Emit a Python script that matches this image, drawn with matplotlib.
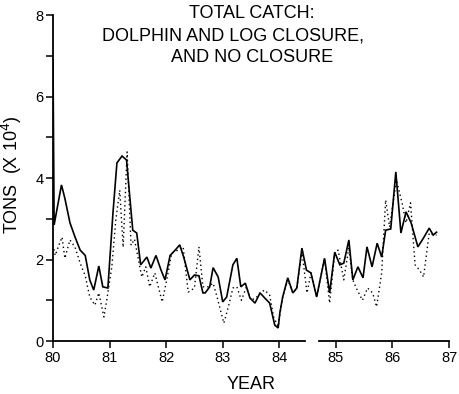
"""Total catch: dolphin and log closure vs. no closure (monthly, 1980-86)."""

import matplotlib
matplotlib.use("Agg")
import matplotlib.pyplot as plt

plt.rcParams["font.family"] = ["Liberation Sans", "DejaVu Sans"]

# solid line: dolphin and log closure
closure_year = [
    80.0, 80.02, 80.15, 80.21, 80.30, 80.39, 80.48, 80.57, 80.65, 80.72,
    80.81, 80.88, 80.97, 81.06, 81.13, 81.22, 81.30, 81.36, 81.41, 81.48,
    81.55, 81.66, 81.73, 81.82, 81.91, 81.98, 82.07, 82.16, 82.24, 82.31,
    82.42, 82.50, 82.58, 82.65, 82.69, 82.77, 82.83, 82.92, 83.00, 83.07,
    83.18, 83.25, 83.32, 83.40, 83.48, 83.57, 83.66, 83.74, 83.83, 83.92,
    83.98, 84.01, 84.06, 84.15, 84.24, 84.31, 84.40, 84.48, 84.56, 84.66,
    84.80, 84.89, 84.98, 85.07, 85.14, 85.23, 85.30, 85.39, 85.48, 85.55,
    85.64, 85.73, 85.81, 85.88, 85.97, 86.06, 86.15, 86.24, 86.33, 86.45,
    86.55, 86.65, 86.72, 86.78,
]
closure_tons = [
    6.9, 2.85, 3.83, 3.5, 2.9, 2.55, 2.23, 2.1, 1.5, 1.25,
    1.84, 1.33, 1.3, 3.14, 4.37, 4.54, 4.44, 3.5, 2.72, 2.65,
    1.87, 2.06, 1.79, 2.1, 1.74, 1.5, 2.1, 2.23, 2.36, 2.06,
    1.5, 1.62, 1.6, 1.18, 1.18, 1.33, 1.8, 1.57, 0.96, 1.08,
    1.87, 2.03, 1.33, 1.42, 1.06, 0.93, 1.18, 1.06, 0.93, 0.39,
    0.32, 0.69, 1.08, 1.55, 1.18, 1.3, 2.28, 1.74, 1.67, 1.08,
    2.03, 1.18, 2.18, 1.87, 1.91, 2.48, 1.5, 1.82, 1.55, 2.31,
    1.82, 2.4, 2.06, 2.72, 2.75, 4.15, 2.65, 3.17, 2.9, 2.31,
    2.53, 2.77, 2.6, 2.67,
]

# dotted line: no closure
open_year = [
    80.0, 80.04, 80.09, 80.16, 80.21, 80.30, 80.39, 80.48, 80.57, 80.65,
    80.74, 80.81, 80.90, 80.95, 81.04, 81.11, 81.18, 81.24, 81.31, 81.38,
    81.44, 81.57, 81.64, 81.71, 81.80, 81.93, 82.01, 82.10, 82.21, 82.30,
    82.39, 82.50, 82.58, 82.65, 82.74, 82.83, 82.90, 83.02, 83.10, 83.18,
    83.25, 83.33, 83.42, 83.50, 83.59, 83.66, 83.74, 83.83, 83.90, 83.98,
    84.01, 84.06, 84.15, 84.24, 84.31, 84.40, 84.49, 84.56, 84.66, 84.80,
    84.89, 84.98, 85.04, 85.14, 85.23, 85.30, 85.36, 85.47, 85.56, 85.65,
    85.72, 85.81, 85.88, 85.95, 86.07, 86.17, 86.24, 86.32, 86.40, 86.48,
    86.55, 86.65, 86.74, 86.78,
]
open_tons = [
    2.36, 2.1, 2.3, 2.55, 2.03, 2.48, 2.3, 1.91, 1.6, 1.08,
    0.88, 1.18, 0.59, 1.0, 1.82, 2.97, 3.7, 2.3, 4.64, 2.35,
    2.5, 1.57, 1.82, 1.33, 1.67, 0.96, 1.5, 2.16, 2.23, 2.31,
    1.2, 1.3, 2.31, 1.33, 1.33, 1.42, 1.08, 0.44, 0.84, 1.3,
    1.33, 1.0, 1.33, 1.0, 1.06, 1.18, 1.25, 1.13, 0.59, 0.35,
    0.65, 1.08, 1.5, 1.18, 1.3, 2.2, 1.18, 1.67, 1.08, 2.03,
    0.93, 2.18, 2.23, 1.5, 2.3, 1.5, 1.3, 1.0, 1.3, 1.18,
    0.84, 1.67, 3.46, 2.8, 3.95, 3.39, 2.9, 3.39, 1.87, 1.74,
    1.57, 2.65, 2.6, 2.6,
]

year_ticks = [80, 81, 82, 83, 84, 85, 86, 87]
tons_ticks = [0, 1, 2, 3, 4, 5, 6, 7, 8]
tons_labels = ["0", "", "2", "", "4", "", "6", "", "8"]

fig = plt.figure(figsize=(4.6, 3.94), dpi=100)
ax = fig.add_axes([0.1152, 0.1345, 0.8609, 0.8274])

ax.plot(closure_year, closure_tons, color="black", lw=1.2, solid_joinstyle="miter")
ax.plot(open_year, open_tons, color="black", lw=1.0, ls=(0, (1, 2.2)))

ax.set_xlim(80, 87)
ax.set_ylim(0, 8)
ax.set_xticks(year_ticks)
ax.set_xticklabels([str(y) for y in year_ticks])
ax.set_yticks(tons_ticks)
ax.set_yticklabels(tons_labels)
ax.tick_params(direction="out", length=5, width=1.1, labelsize=10.5, pad=2)

for side in ["top", "right", "bottom"]:
    ax.spines[side].set_visible(False)
ax.spines["left"].set_linewidth(1.3)

# bottom axis drawn by hand because of the break after 84
xa = ax.get_xaxis_transform()
ax.plot([80, 84.45], [0, 0], color="black", lw=1.3, transform=xa, clip_on=False)
ax.plot([84.7, 87], [0, 0], color="black", lw=1.3, transform=xa, clip_on=False)

ax.set_xlabel("YEAR", fontsize=13, labelpad=8)
ax.set_ylabel("TONS  (X 10$^4$)", fontsize=13)
ax.yaxis.set_label_coords(-0.073, 0.51)

fig.text(252 / 460, 1 - 14 / 394, "TOTAL CATCH:", ha="center", va="center", fontsize=13)
fig.text(233 / 460, 1 - 36 / 394, "DOLPHIN AND LOG CLOSURE,", ha="center", va="center", fontsize=13)
fig.text(252 / 460, 1 - 58 / 394, "AND NO CLOSURE", ha="center", va="center", fontsize=13)

fig.savefig("out.png", dpi=100)
plt.close(fig)
